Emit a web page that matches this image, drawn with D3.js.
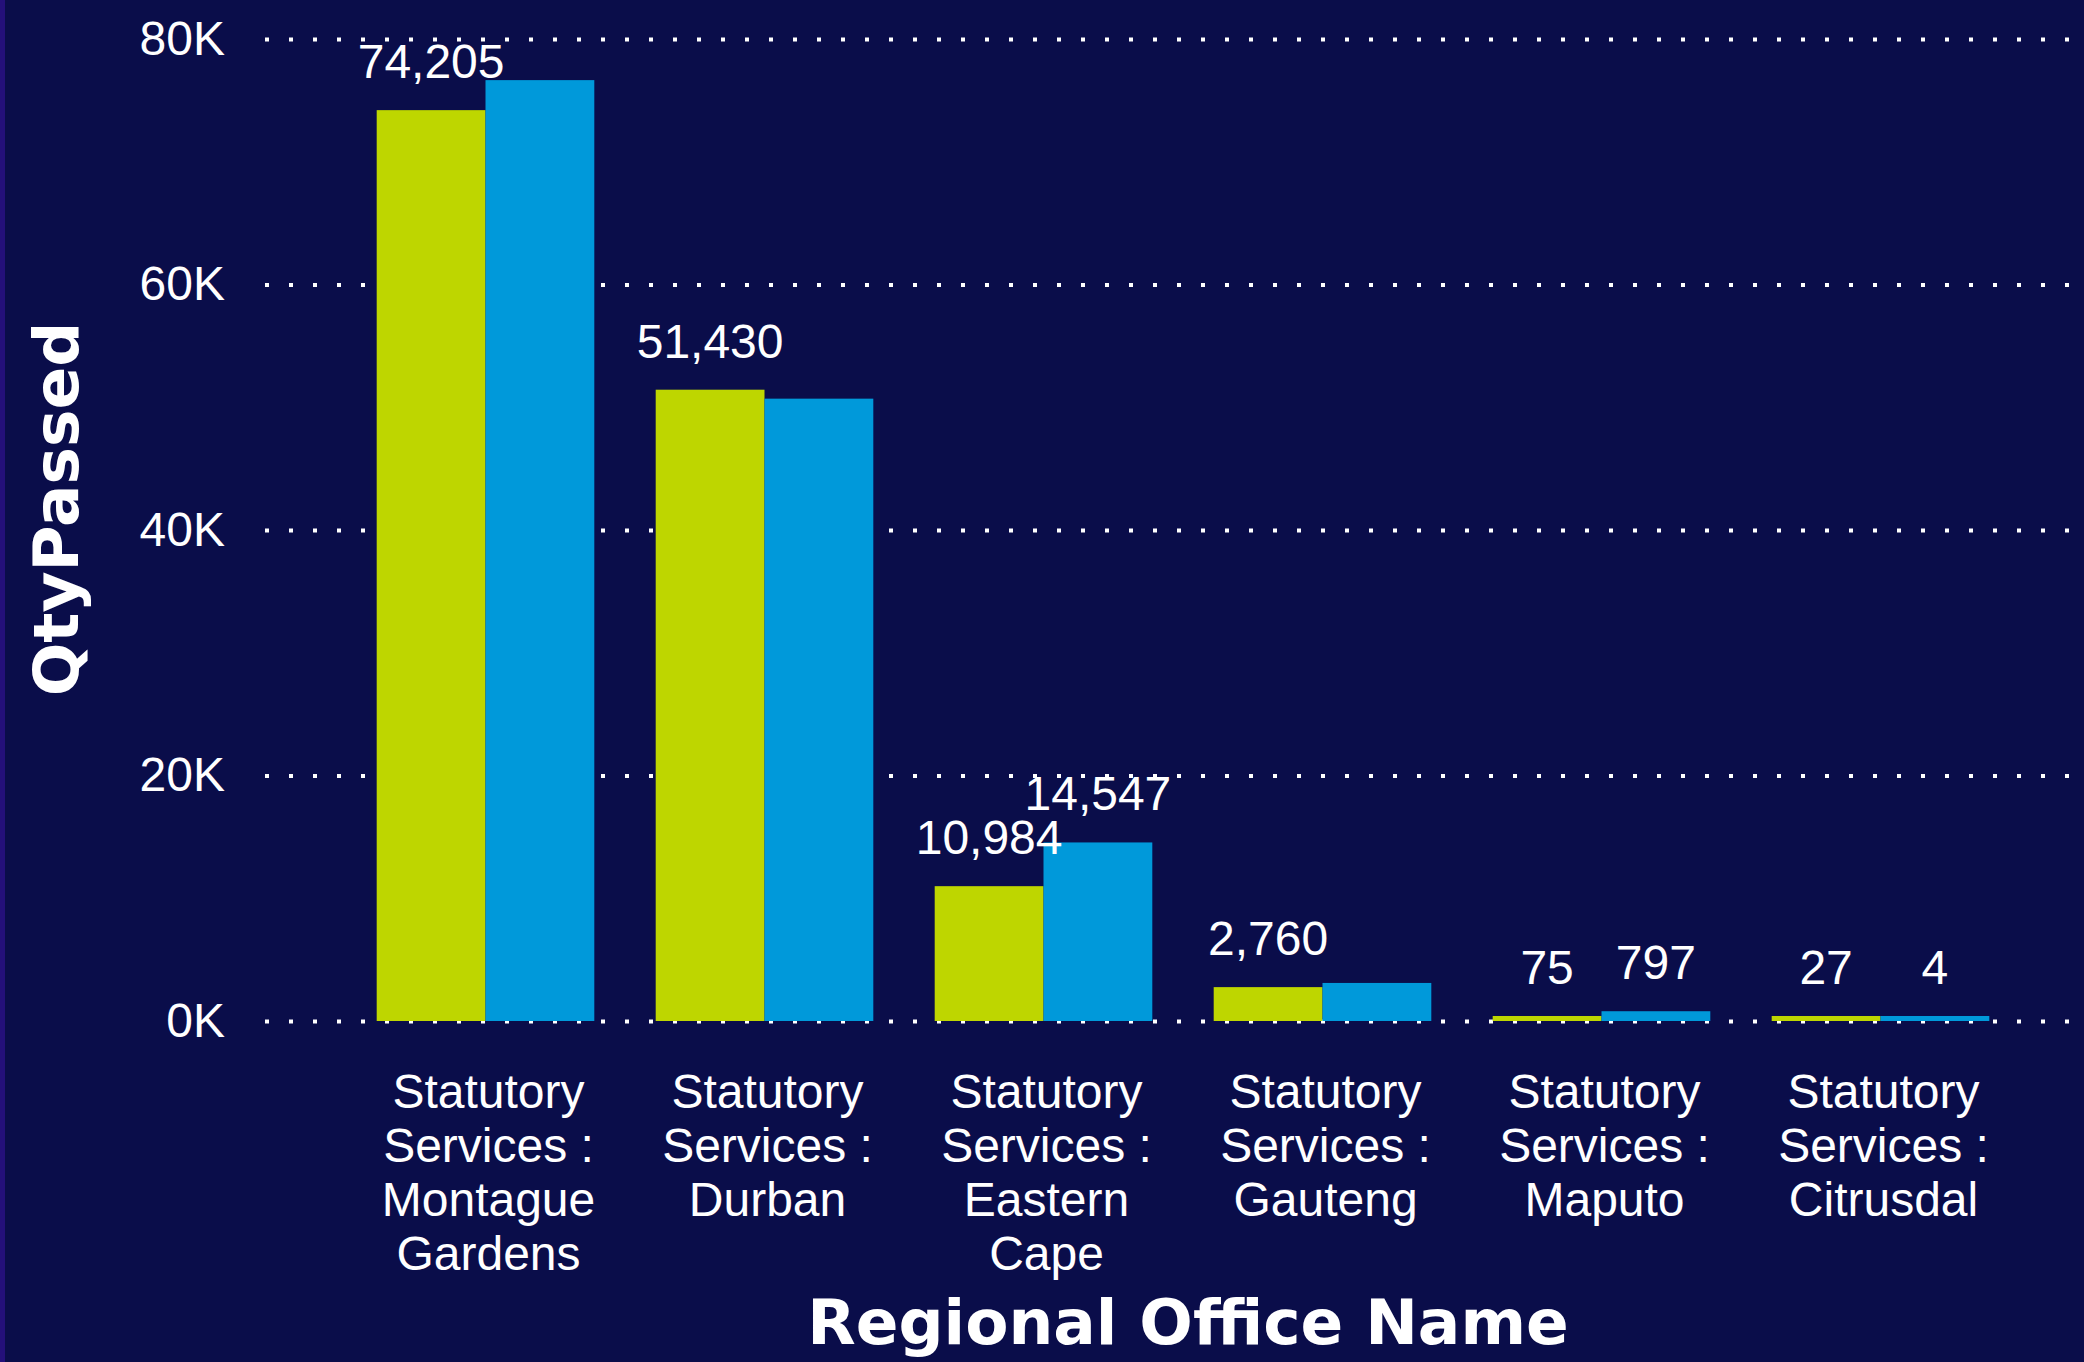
<!DOCTYPE html>
<html>
<head>
<meta charset="utf-8">
<script src="https://cdn.jsdelivr.net/npm/d3@7"></script>
<style>
  body { margin: 0; background: #0a0d4a; }
  svg { display: block; }
</style>
</head>
<body>
<div id="chart"></div>
<script>
// values
var offices = [
  "Statutory Services : Montague Gardens",
  "Statutory Services : Durban",
  "Statutory Services : Eastern Cape",
  "Statutory Services : Gauteng",
  "Statutory Services : Maputo",
  "Statutory Services : Citrusdal"
];
var seriesKeys = ["green", "blue"];
var greenValues = [74205, 51430, 10984, 2760, 75, 27];
var blueValues = [76650, 50700, 14547, 3100, 797, 4];
// Power BI hid some of the blue labels, only these are drawn
var blueLabelShown = [false, false, true, false, true, true];
var yTicks = [0, 20000, 40000, 60000, 80000];

var width = 2084, height = 1362;
var colors = {green: "#bed600", blue: "#0099da"};

var data = offices.map(function(d, i) {
  return {office: d, green: greenValues[i], blue: blueValues[i], showBlue: blueLabelShown[i]};
});

var svg = d3.select("#chart")
  .append("svg")
    .attr("width", width)
    .attr("height", height);

svg.append("rect")
  .attr("width", width)
  .attr("height", height)
  .attr("fill", "#0a0d4a");

// thin purple strip on the left edge
svg.append("rect")
  .attr("width", 5)
  .attr("height", height)
  .attr("fill", "#24107a");

// scales
var y = d3.scaleLinear()
  .domain([0, 80000])
  .range([1021, 39]);

var x0 = d3.scaleBand()
  .domain(offices)
  .range([346, 2020])
  .paddingInner(0.22)
  .paddingOuter(0.11);

var x1 = d3.scaleBand()
  .domain(seriesKeys)
  .range([0, x0.bandwidth()]);

// y axis with dotted gridlines
var gridLeft = 265;
var yAxis = svg.append("g")
  .attr("transform", "translate(" + gridLeft + ",0)")
  .call(d3.axisLeft(y)
    .tickValues(yTicks)
    .tickSize(-(width - gridLeft))
    .tickPadding(40)
    .tickFormat(function(d) { return (d / 1000) + "K"; }));

yAxis.select(".domain").remove();
yAxis.selectAll(".tick line")
  .attr("stroke", "#ffffff")
  .attr("stroke-width", 4)
  .attr("stroke-dasharray", "4,20");
yAxis.selectAll(".tick text")
  .attr("fill", "#ffffff")
  .style("font-family", "'Liberation Sans', Arial, sans-serif")
  .style("font-size", "48px");

// bars
var groups = svg.append("g")
  .selectAll("g")
  .data(data)
  .enter()
  .append("g")
    .attr("transform", function(d) { return "translate(" + x0(d.office) + ",0)"; });

function barTop(v) {
  // tiny values still get a visible sliver like in the original
  return y(0) - Math.max(y(0) - y(v), 5);
}

groups.selectAll("rect")
  .data(function(d) { return seriesKeys.map(function(k) { return {key: k, value: d[k]}; }); })
  .enter()
  .append("rect")
    .attr("x", function(d) { return x1(d.key); })
    .attr("y", function(d) { return barTop(d.value); })
    .attr("width", x1.bandwidth())
    .attr("height", function(d) { return y(0) - barTop(d.value); })
    .attr("fill", function(d) { return colors[d.key]; });

// data labels
groups.selectAll(".lbl")
  .data(function(d) {
    var out = [{key: "green", value: d.green}];
    if (d.showBlue) out.push({key: "blue", value: d.blue});
    return out;
  })
  .enter()
  .append("text")
    .attr("class", "lbl")
    .attr("x", function(d) { return x1(d.key) + x1.bandwidth() / 2; })
    .attr("y", function(d) { return barTop(d.value) - 32; })
    .attr("text-anchor", "middle")
    .attr("fill", "#ffffff")
    .style("font-family", "'Liberation Sans', Arial, sans-serif")
    .style("font-size", "48px")
    .text(function(d) { return d3.format(",")(d.value); });

// x axis labels, wrapped
var xAxis = svg.append("g")
  .attr("transform", "translate(3," + y(0) + ")")
  .call(d3.axisBottom(x0).tickSize(0));

xAxis.select(".domain").remove();
xAxis.selectAll(".tick text")
  .attr("fill", "#ffffff")
  .style("font-family", "'Liberation Sans', Arial, sans-serif")
  .style("font-size", "48px")
  .call(wrap, 245);

function wrap(texts, maxWidth) {
  texts.each(function() {
    var text = d3.select(this);
    var words = text.text().split(/\s+/);
    text.text(null).attr("dy", null).attr("y", null);
    var lines = [];
    var line = [];
    var probe = text.append("tspan");
    words.forEach(function(w) {
      line.push(w);
      probe.text(line.join(" "));
      if (probe.node().getComputedTextLength() > maxWidth && line.length > 1) {
        line.pop();
        lines.push(line.join(" "));
        line = [w];
      }
    });
    lines.push(line.join(" "));
    probe.remove();
    lines.forEach(function(l, i) {
      text.append("tspan")
        .attr("x", 0)
        .attr("y", 87 + i * 54)
        .text(l);
    });
  });
}

// axis titles
svg.append("text")
  .attr("x", 1188)
  .attr("y", 1344)
  .attr("text-anchor", "middle")
  .attr("fill", "#ffffff")
  .style("font-family", "'DejaVu Sans', sans-serif")
  .style("font-weight", "bold")
  .style("font-size", "63px")
  .text("Regional Office Name");

svg.append("text")
  .attr("transform", "translate(78,509) rotate(-90)")
  .attr("text-anchor", "middle")
  .attr("fill", "#ffffff")
  .style("font-family", "'DejaVu Sans', sans-serif")
  .style("font-weight", "bold")
  .style("font-size", "63px")
  .text("QtyPassed");
</script>
</body>
</html>
